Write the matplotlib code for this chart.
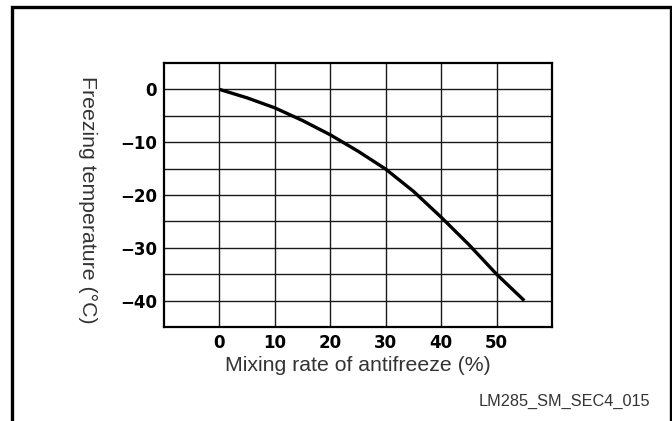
import matplotlib
matplotlib.use("Agg")
import matplotlib.pyplot as plt
from matplotlib.lines import Line2D

# Freezing point of coolant vs. antifreeze concentration
mix_rate = [0, 5, 10, 15, 20, 25, 30, 35, 40, 45, 50, 55]
freeze_temp = [0, -1.6, -3.5, -5.9, -8.6, -11.7, -15.1, -19.3, -24.2, -29.4, -35.0, -40.0]

x_ticks = [0, 10, 20, 30, 40, 50]
y_ticks = [0, -10, -20, -30, -40]
y_grid = [0, -5, -10, -15, -20, -25, -30, -35, -40]

W, H = 672, 421
fig = plt.figure(figsize=(W / 100, H / 100), dpi=100)
fig.patch.set_facecolor("white")

# outer border (open at the bottom)
fx0, fx1 = 12 / W, 670.5 / W
fy1 = 1 - 7.0 / H
fig.add_artist(Line2D([fx0, fx0, fx1, fx1], [0, fy1, fy1, 0],
                      transform=fig.transFigure, color="black", lw=2.4,
                      solid_joinstyle="miter"))

ax = fig.add_axes([164 / W, 1 - 327 / H, (552 - 164) / W, (327 - 63) / H])
ax.set_xlim(-10, 60)
ax.set_ylim(-45, 5)

for gx in x_ticks:
    ax.axvline(gx, color="#1a1a1a", lw=1.0, zorder=1)
for gy in y_grid:
    ax.axhline(gy, color="#1a1a1a", lw=1.0, zorder=1)

ax.plot(mix_rate, freeze_temp, color="black", lw=2.4, solid_capstyle="butt",
        solid_joinstyle="round", zorder=3)

for s in ax.spines.values():
    s.set_linewidth(1.6)
    s.set_color("black")

ax.set_xticks(x_ticks)
ax.set_yticks(y_ticks)
ax.set_xticklabels([str(v) for v in x_ticks])
ax.set_yticklabels([str(v).replace("-", "\u2212") for v in y_ticks])
ax.tick_params(length=0, labelsize=12, colors="black")
ax.tick_params(axis="x", pad=5)
ax.tick_params(axis="y", pad=5)
for lab in ax.get_xticklabels() + ax.get_yticklabels():
    lab.set_fontweight("bold")
    lab.set_fontfamily("DejaVu Sans")

ax.set_xlabel("Mixing rate of antifreeze (%)", fontsize=15.3, color="#333333",
              family="Liberation Sans", labelpad=3)
ax.set_ylabel("Freezing temperature (\u00b0C)", fontsize=15.3, color="#333333",
              family="Liberation Sans", rotation=270, va="center")
ax.yaxis.set_label_coords(-76 / 388, 0.48)

fig.text(650 / W, 1 - 401 / H, "LM285_SM_SEC4_015", ha="right", va="center",
         fontsize=11.7, color="#333333", family="Liberation Sans")

fig.savefig("out.png", dpi=100, facecolor="white")
